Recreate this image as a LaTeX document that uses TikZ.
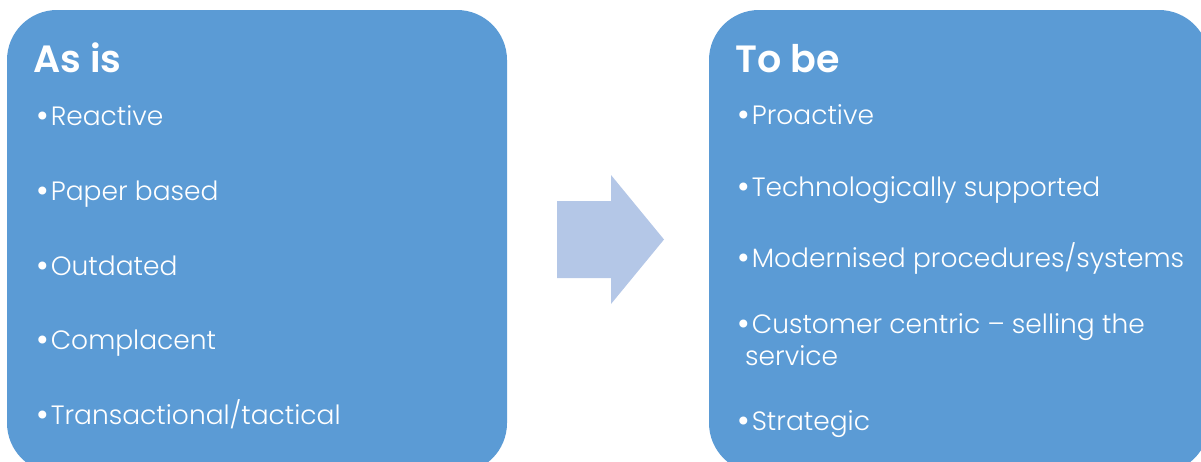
\documentclass[tikz,border=0pt]{standalone}
\usepackage{fontspec}
\setmainfont{Poppins}[UprightFont=* Light,BoldFont=* SemiBold]
\usetikzlibrary{positioning}

\definecolor{panelblue}{HTML}{5B9BD5}
\definecolor{arrowblue}{HTML}{B4C7E7}

\newcommand{\itemdot}{\raisebox{-2pt}{\scalebox{1.3}{\textbullet}}\kern2pt}

\begin{document}
\begin{tikzpicture}[x=1pt,y=-1pt,
    panel/.style={rectangle,fill=panelblue,rounded corners=50pt,inner sep=0,
                  minimum width=500pt,minimum height=463pt},
    heading/.style={text=white,font=\fontsize{38}{42}\selectfont\bfseries,inner sep=0,anchor=base west},
    bullettext/.style={text=white,font=\fontsize{26.5}{32}\selectfont,inner sep=0,anchor=base west}]

\useasboundingbox (0,0) rectangle (1201,461);

% the two panels

\node (asisbox) [panel] at (257,241.5) {};
\node (tobebox) [panel] at (959,241.5) {};

% arrow between them

\fill [arrowblue] (557,201) -- (611,201) -- (611,175) -- (664,239.5)
    -- (611,304) -- (611,278) -- (557,278) -- cycle;

% as is

\node (asishead) [heading] at (33,72) {As is};

\foreach \y/\itemlabel [count=\i] in {
  125/{Reactive},
  200/{Paper based},
  275/{Outdated},
  349/{Complacent},
  424/{Transactional/tactical}}
    \node (asis\i) [bullettext] at (36,\y) {\itemdot\itemlabel};

% to be

\node (tobehead) [heading] at (735,72) {To be};

\foreach \y/\itemlabel [count=\i] in {
  124/{Proactive},
  196/{Technologically supported},
  267/{Modernised procedures/systems},
  333/{Customer centric -- selling the},
  430/{Strategic}}
    \node (tobe\i) [bullettext] at (737,\y) {\itemdot\itemlabel};

\node (tobe4b) [bullettext] at (745,365) {service};

\end{tikzpicture}
\end{document}
